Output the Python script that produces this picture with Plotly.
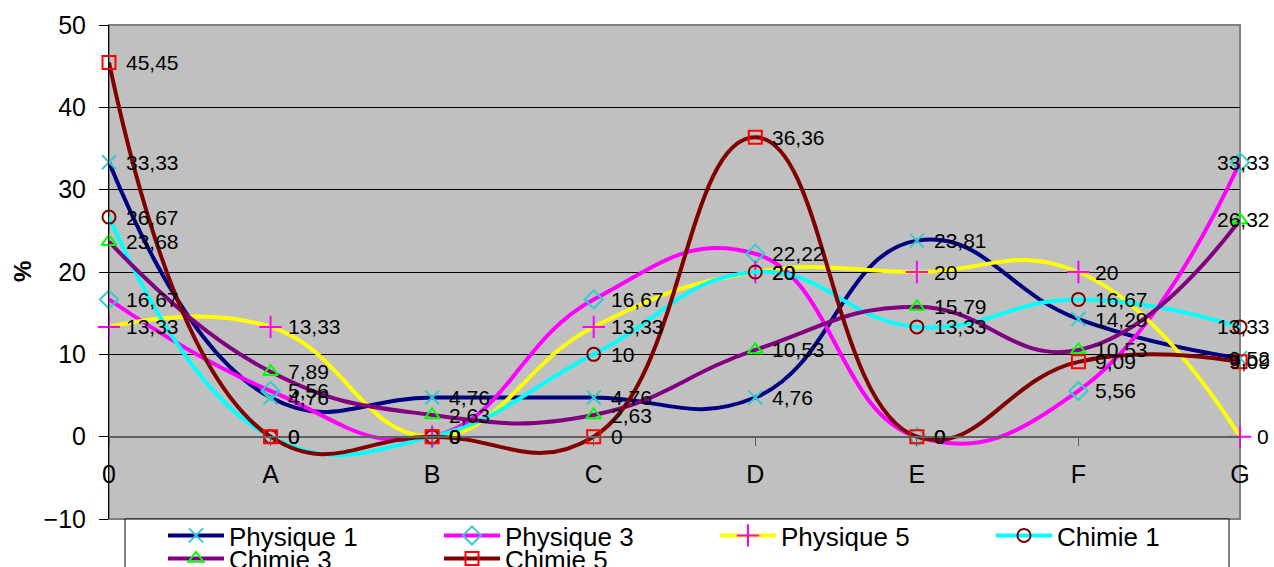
import plotly.graph_objects as go

# Categories along the horizontal axis
categories = ["0", "A", "B", "C", "D", "E", "F", "G"]

# Percentages per series
physique_1 = [33.33, 4.76, 4.76, 4.76, 4.76, 23.81, 14.29, 9.52]
physique_3 = [16.67, 5.56, 0, 16.67, 22.22, 0, 5.56, 33.33]
physique_5 = [13.33, 13.33, 0, 13.33, 20, 20, 20, 0]
chimie_1 = [26.67, 0, 0, 10, 20, 13.33, 16.67, 13.33]
chimie_3 = [23.68, 7.89, 2.63, 2.63, 10.53, 15.79, 10.53, 26.32]
chimie_5 = [45.45, 0, 0, 0, 36.36, 0, 9.09, 9.09]

series_names = ["Physique 1", "Physique 3", "Physique 5", "Chimie 1", "Chimie 3", "Chimie 5"]
series_values = [physique_1, physique_3, physique_5, chimie_1, chimie_3, chimie_5]

y_ticks = [-10, 0, 10, 20, 30, 40, 50]

# Styling per series: line colour, marker symbol, marker colour, marker size, legend
styles = [
    dict(line="#000080", symbol="x-thin-open", mcolor="#33CCCC", size=14, legend="legend"),
    dict(line="#FF00FF", symbol="diamond-open", mcolor="#33CCCC", size=14, legend="legend"),
    dict(line="#FFFF00", symbol="cross-thin-open", mcolor="#FF00FF", size=16, legend="legend"),
    dict(line="#00FFFF", symbol="circle-open", mcolor="#800000", size=13, legend="legend"),
    dict(line="#800080", symbol="triangle-up-open", mcolor="#00FF00", size=13, legend="legend2"),
    dict(line="#800000", symbol="square-open", mcolor="#FF0000", size=13, legend="legend2"),
]

FONT = "Liberation Sans, Arial, sans-serif"
W, H = 1274, 567
M_L, M_R, M_T, M_B = 109, 34, 25, 48
PLOT_W = W - M_L - M_R
PLOT_H = H - M_T - M_B
y_min, y_max = y_ticks[0], y_ticks[-1]
zero_pos = (0 - y_min) / (y_max - y_min)


def fmt(v):
    s = f"{v:.2f}".rstrip("0").rstrip(".")
    return s.replace(".", ",")


fig = go.Figure()
annotations = []

for name, vals, st in zip(series_names, series_values, styles):
    fig.add_trace(go.Scatter(
        x=categories, y=vals, name=name, mode="lines+markers",
        line=dict(color=st["line"], width=4, shape="spline", smoothing=1.3),
        marker=dict(symbol=st["symbol"], size=st["size"], color=st["mcolor"],
                    line=dict(color=st["mcolor"], width=2)),
        cliponaxis=False, legend=st["legend"],
    ))
    last = len(categories) - 1
    for i, (c, v) in enumerate(zip(categories, vals)):
        txt = fmt(v)
        if i == last and len(txt) > 1:
            anchor, shift = "right", 32
        else:
            anchor, shift = "left", 15
        annotations.append(dict(
            x=c, y=v, xref="x", yref="y", text=txt, showarrow=False,
            xanchor=anchor, yanchor="middle", xshift=shift,
            font=dict(family=FONT, size=21, color="black"),
        ))

# axis title
annotations.append(dict(
    x=0, y=0.5, xref="paper", yref="paper", text="<b>%</b>", showarrow=False,
    textangle=-90, xanchor="center", yanchor="middle", xshift=-87,
    font=dict(family=FONT, size=24, color="black"),
))

px_x = lambda p: (p - M_L) / PLOT_W
px_y = lambda p: (H - M_B - p) / PLOT_H

shapes = [
    # plot area frame
    dict(type="rect", xref="x domain", yref="y domain", x0=0, x1=1, y0=0, y1=1,
         line=dict(color="#808080", width=2), layer="below"),
    # legend box
    dict(type="rect", xref="paper", yref="paper",
         x0=px_x(125), x1=px_x(1229), y0=px_y(640), y1=px_y(519),
         fillcolor="white", line=dict(color="black", width=1), layer="above"),
]

legend_common = dict(
    orientation="h", xanchor="left", yanchor="top",
    font=dict(family=FONT, size=26, color="black"),
    bgcolor="rgba(0,0,0,0)", borderwidth=0,
    itemwidth=56, entrywidth=205, entrywidthmode="pixels",
    traceorder="normal",
)

fig.update_layout(
    width=W, height=H,
    margin=dict(l=M_L, r=M_R, t=M_T, b=M_B, autoexpand=False),
    paper_bgcolor="white", plot_bgcolor="#C0C0C0",
    font=dict(family=FONT, color="black"),
    showlegend=True,
    legend=dict(x=px_x(163), y=px_y(512), **legend_common),
    legend2=dict(x=px_x(163), y=px_y(535), **legend_common),
    xaxis=dict(
        type="category", categoryorder="array", categoryarray=categories,
        range=[0, len(categories) - 1],
        anchor="free", position=zero_pos,
        showline=True, linecolor="#606060", linewidth=2,
        ticks="outside", ticklen=8, tickcolor="#606060", tickwidth=1,
        showgrid=False, zeroline=False,
        tickfont=dict(family=FONT, size=25, color="black"),
        ticklabelstandoff=7,
    ),
    xaxis2=dict(
        type="linear", overlaying="x", range=[0, len(categories) - 1],
        tick0=0, dtick=1, anchor="free", position=zero_pos,
        ticks="inside", ticklen=8, tickcolor="#606060", tickwidth=1,
        showticklabels=False, showline=False, showgrid=False, zeroline=False,
    ),
    yaxis=dict(
        range=[y_min, y_max], tickmode="array", tickvals=y_ticks,
        showline=True, linecolor="black", linewidth=1,
        ticks="outside", ticklen=9, tickcolor="black",
        showgrid=True, gridcolor="black", gridwidth=1, zeroline=False,
        tickfont=dict(family=FONT, size=25, color="black"),
        ticklabelstandoff=8,
    ),
    annotations=annotations,
    shapes=shapes,
)

fig.write_html("out.html")
